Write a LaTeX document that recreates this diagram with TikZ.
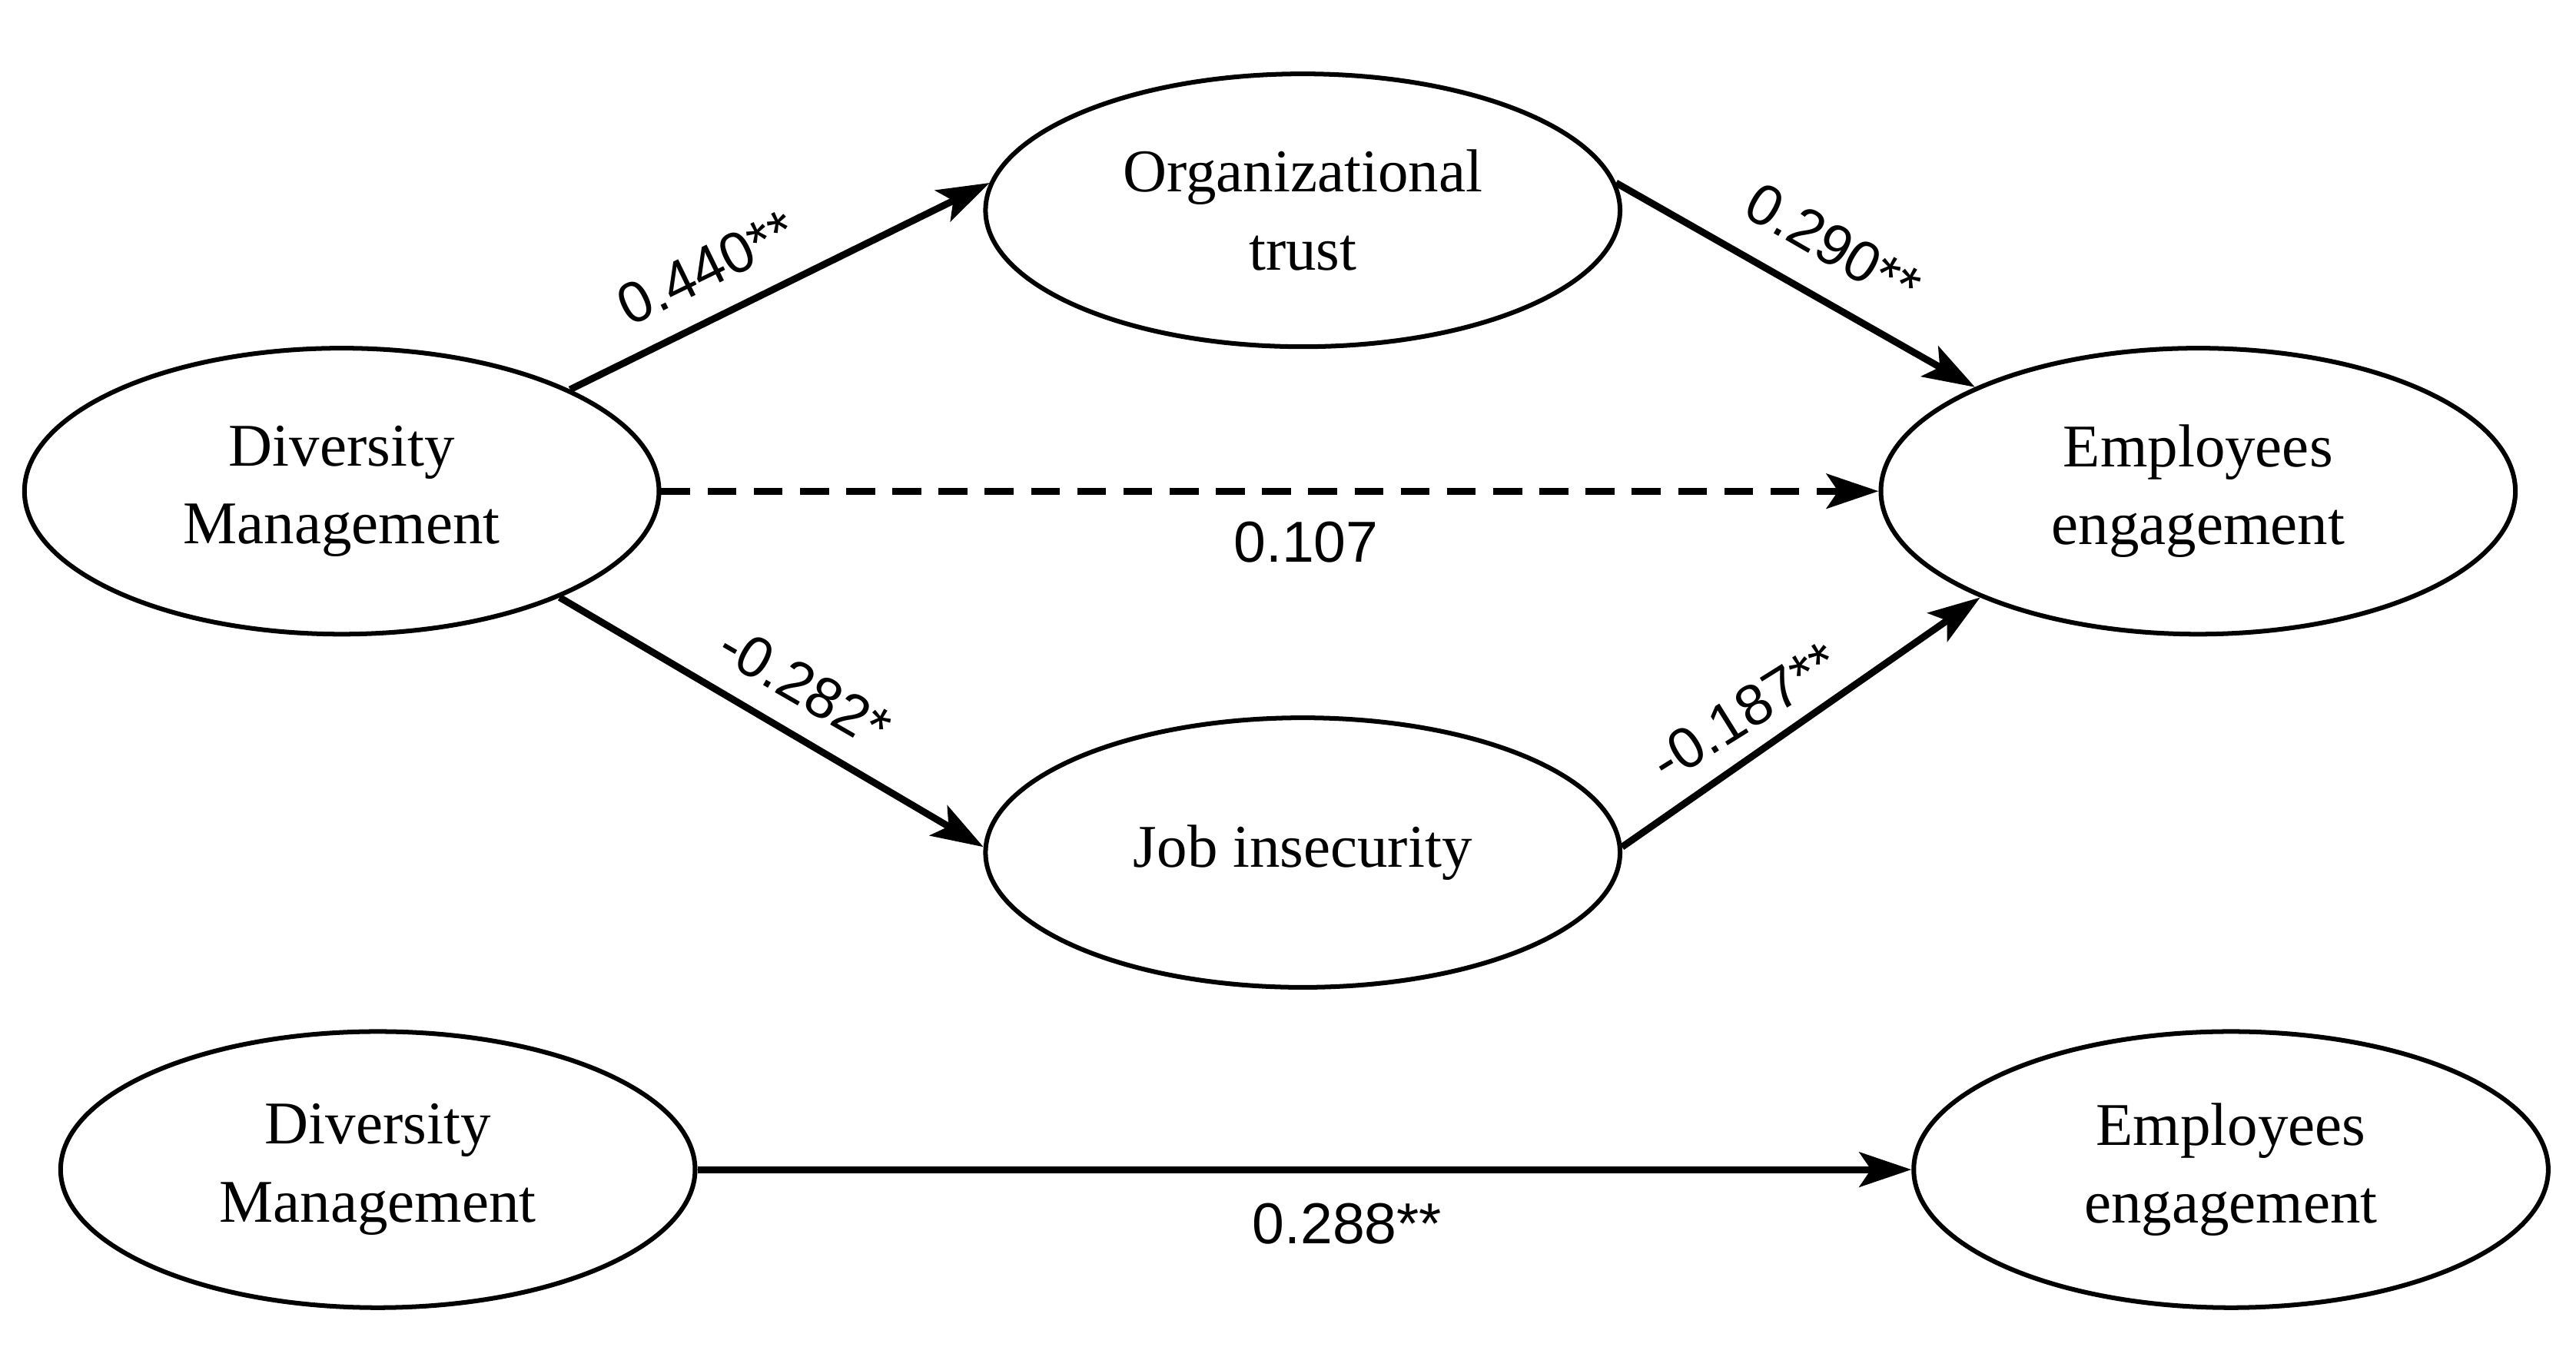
\documentclass[tikz,border=0pt]{standalone}
\usepackage{fontspec}
\setmainfont{Liberation Serif}
\newfontfamily\lab{Liberation Sans}
\usetikzlibrary{shapes.geometric,arrows.meta}
\begin{document}
\begin{tikzpicture}[x=0.01cm,y=-0.01cm,
  var/.style={ellipse,draw,line width=0.8pt,minimum width=3.86cm,minimum height=1.74cm,align=center,font=\fontsize{10.5}{13.5}\selectfont,inner sep=0pt},
  path/.style={line width=1.2pt,-{Stealth[length=9pt,width=6pt,inset=2pt]}},
  lb/.style={font=\lab\fontsize{10}{12}\selectfont}]
\useasboundingbox (0,0) rectangle (1568,820);
\node[var] (dm) at (208,299) {Diversity\\Management};
\node[var,minimum height=1.66cm] (ot) at (793,128) {Organizational\\trust};
\node[var] (ee) at (1338,299) {Employees\\engagement};
\node[var,minimum height=1.64cm] (ji) at (793,519) {Job insecurity};
\node[var,minimum height=1.68cm] (dm2) at (230,712) {Diversity\\Management};
\node[var,minimum height=1.68cm] (ee2) at (1358,712) {Employees\\engagement};
\draw[path] (dm.24) -- (ot.175);
\draw[path] (ot.5) -- (ee.155);
\draw[path,dash pattern=on 5pt off 3pt] (dm.east) -- (ee.west);
\draw[path] (dm.-26) -- (ji.179);
\draw[path] (ji.1) -- (ee.206);
\draw[path] (dm2.east) -- (ee2.west);
\node[lb,rotate=26] (l1) at (430,163) {0.440**};
\node[lb,rotate=-30] (l2) at (1116,149) {0.290**};
\node[lb] (l3) at (795,330) {0.107};
\node[lb,rotate=-30] (l4) at (490,418) {-0.282*};
\node[lb,rotate=32] (l5) at (1062,433) {-0.187**};
\node[lb] (l6) at (820,745) {0.288**};
\end{tikzpicture}
\end{document}
